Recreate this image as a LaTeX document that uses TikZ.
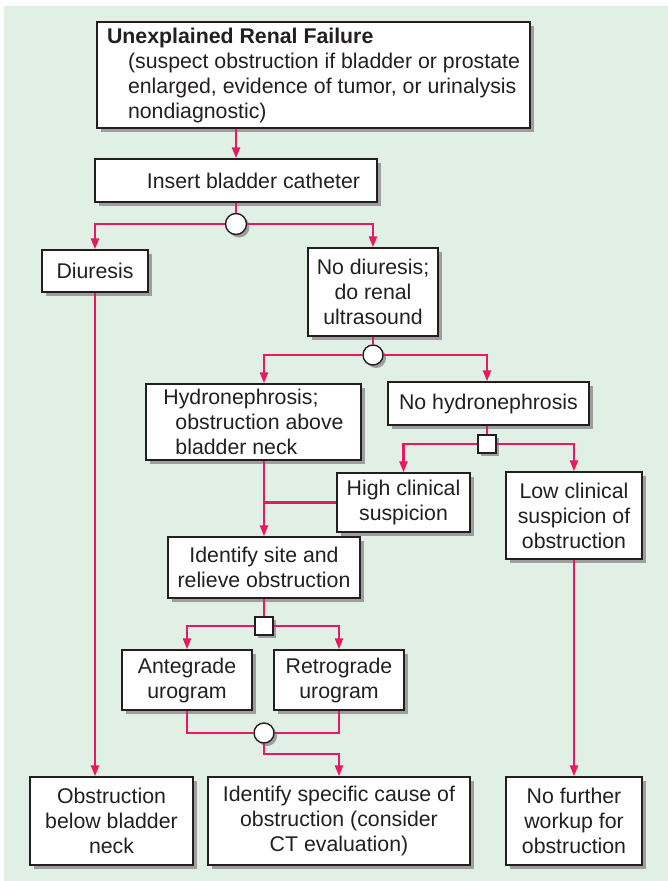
\documentclass[tikz,border=0pt]{standalone}
\usepackage{fontspec}
\setmainfont{Liberation Sans}
\usepackage{tikz}
\usetikzlibrary{arrows.meta,shadows,positioning}
\definecolor{bgreen}{RGB}{224,240,228}
\definecolor{flowpink}{RGB}{232,24,98}
\definecolor{inkgray}{RGB}{35,31,32}
\tikzset{
  chartbox/.style={draw=inkgray, fill=white, line width=1.4pt, align=center, inner sep=0pt,
    font=\fontsize{21.3}{25}\selectfont, text=inkgray,
    drop shadow={shadow xshift=4pt, shadow yshift=-4pt, fill=black!38, opacity=1}},
  junc/.style={circle, draw=inkgray, fill=white, line width=1.4pt, minimum size=21pt, inner sep=0pt,
    drop shadow={shadow xshift=3pt, shadow yshift=-3pt, fill=black!38, opacity=1}},
  jsq/.style={rectangle, draw=inkgray, fill=white, line width=1.4pt, minimum size=18pt, inner sep=0pt,
    drop shadow={shadow xshift=3pt, shadow yshift=-3pt, fill=black!38, opacity=1}},
  link/.style={flowpink, line width=2.4pt},
  flow/.style={link, -{Triangle[length=11pt,width=8pt]}}
}

\begin{document}
\begin{tikzpicture}[x=1pt, y=-1pt]
  \useasboundingbox (0,0) rectangle (668,881);
  \fill[bgreen] (4,6) rectangle (668,881);
  % boxes
  \node[chartbox, align=left, minimum width=433pt, minimum height=106pt] (renal) at (313.5,75)
    {\textbf{Unexplained Renal Failure}\\
     \hspace*{21pt}(suspect obstruction if bladder or prostate\\
     \hspace*{21pt}enlarged, evidence of tumor, or urinalysis\\
     \hspace*{21pt}nondiagnostic)};
  \node[chartbox, minimum width=282pt, minimum height=43pt] (cath) at (236,180.5)
    {\hspace*{35pt}Insert bladder catheter};
  \node[junc] (j1) at (236,224) {};
  \node[chartbox, minimum width=106pt, minimum height=42pt] (diur) at (95,271) {Diuresis};
  \node[chartbox, minimum width=130pt, minimum height=88pt] (nodiur) at (373,292)
    {No diuresis;\\do renal\\ultrasound};
  \node[junc, minimum size=20pt] (j2) at (373,355) {};
  \node[chartbox, align=left, minimum width=215pt, minimum height=76pt] (hydro) at (253.5,422)
    {Hydronephrosis;\\\hspace*{12pt}obstruction above\\\hspace*{12pt}bladder neck};
  \node[chartbox, minimum width=201pt, minimum height=43pt] (nohydro) at (488.5,403.5)
    {No hydronephrosis};
  \node[jsq] (j3) at (487,444) {};
  \node[chartbox, minimum width=133pt, minimum height=59pt] (high) at (403.5,502.5)
    {High clinical\\suspicion};
  \node[chartbox, minimum width=136pt, minimum height=87pt] (low) at (574,515.5)
    {Low clinical\\suspicion of\\obstruction};
  \node[chartbox, minimum width=192pt, minimum height=61pt] (site) at (264,567.5)
    {Identify site and\\relieve obstruction};
  \node[jsq] (j4) at (264,626) {};
  \node[chartbox, minimum width=130pt, minimum height=60pt] (ante) at (187,680)
    {Antegrade\\urogram};
  \node[chartbox, minimum width=130pt, minimum height=60pt] (retro) at (339,680)
    {Retrograde\\urogram};
  \node[junc, minimum size=20pt] (j5) at (264,733) {};
  \coordinate (bend) at (264,754);
  \node[chartbox, minimum width=163pt, minimum height=88pt] (below) at (111.5,821)
    {Obstruction\\below bladder\\neck};
  \node[chartbox, minimum width=262pt, minimum height=88pt] (cause) at (339,821)
    {Identify specific cause of\\obstruction (consider\\CT evaluation)};
  \node[chartbox, minimum width=136pt, minimum height=88pt] (nofurther) at (574,821)
    {No further\\workup for\\obstruction};
  % connectors
  \draw[flow] (renal.south -| j1) -- (cath.north -| j1);
  \draw[link] (cath.south -| j1) -- (j1);
  \draw[flow] (j1.west) -| (diur.north);
  \draw[flow] (j1.east) -| (nodiur.north);
  \draw[flow] (diur.south) -- (diur.south |- below.north);
  \draw[link] (nodiur.south) -- (j2);
  \draw[flow] (j2.west) -| (site.north |- hydro.north);
  \draw[flow] (j2.east) -| (nohydro.north -| j3);
  \draw[link] (nohydro.south -| j3) -- (j3);
  \draw[flow] (j3.west) -| (high.north);
  \draw[flow] (j3.east) -| (low.north);
  \draw[flow] (hydro.south -| site) -- (site.north);
  \draw[link] (high.west) -- (high.west -| site);
  \draw[flow] (low.south) -- (nofurther.north);
  \draw[link] (site.south) -- (j4);
  \draw[flow] (j4.west) -| (ante.north);
  \draw[flow] (j4.east) -| (retro.north);
  \draw[link] (ante.south) |- (j5.west);
  \draw[link] (retro.south) |- (j5.east);
  \draw[flow] (j5.south) -- (bend) -| (cause.north);
\end{tikzpicture}
\end{document}
